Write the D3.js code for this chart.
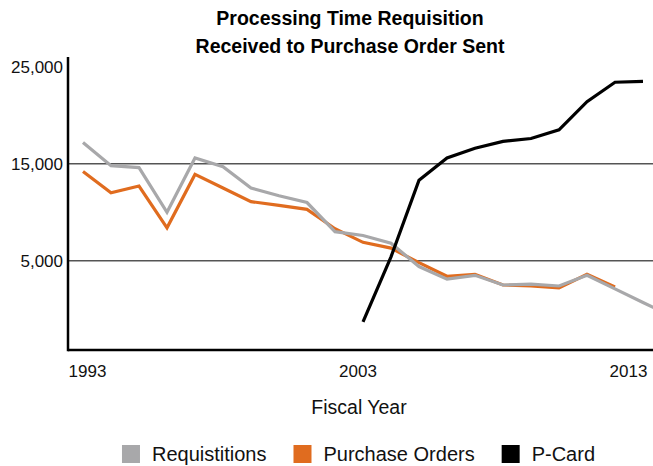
<!DOCTYPE html>
<html>
<head>
<meta charset="utf-8">
<script src="https://cdn.jsdelivr.net/npm/d3@7"></script>
<style>
  html, body { margin: 0; padding: 0; background: #fff; }
  svg { display: block; font-family: "Liberation Sans", Arial, Helvetica, sans-serif; }
</style>
</head>
<body>
<div id="chart"></div>
<script>
// Processing time, requisition received to PO sent

const years = [1993, 1994, 1995, 1996, 1997, 1998, 1999, 2000, 2001, 2002, 2003,
               2004, 2005, 2006, 2007, 2008, 2009, 2010, 2011, 2012, 2013, 2014];
const requisitions = [17200, 14800, 14600, 10000, 15600, 14700, 12500, 11700, 11000, 8000, 7600,
                      6800, 4400, 3100, 3500, 2500, 2600, 2400, 3500, 2100, 700, -700];
const purchaseOrders = [14200, 12000, 12700, 8400, 13900, 12500, 11100, 10700, 10300, 8300, 6900,
                        6300, 4800, 3400, 3600, 2500, 2400, 2200, 3600, 2300];
const pCardYears = [2003, 2004, 2005, 2006, 2007, 2008, 2009, 2010, 2011, 2012, 2013];
const pCard = [-1300, 5400, 13300, 15600, 16600, 17300, 17600, 18500, 21400, 23400, 23500];

const yTicks = [5000, 15000, 25000];
const gridValues = [5000, 15000];
const xTicks = [1993, 2003, 2013];

const seriesNames = ['Requistitions', 'Purchase Orders', 'P-Card'];
const seriesColors = ['#a8a8aa', '#e06c1f', '#000000'];

function drawChart() {
    const width = 653;
    const height = 466;
    const left = 68, right = 653, top = 58, bottom = 350;

    const svg = d3.select('#chart').append('svg')
        .attr('width', width)
        .attr('height', height);

    const x = d3.scaleLinear().domain([1993, 2013]).range([83, 643]);
    const xLabel = d3.scaleLinear().domain([1993, 2013]).range([87.5, 628.5]);
    const y = d3.scaleLinear().domain([-4200, 25900]).range([bottom, top]);

    // Title
    const title = svg.append('text')
        .attr('text-anchor', 'middle')
        .attr('font-size', '19.5px')
        .attr('font-weight', '700')
        .attr('fill', '#000');
    title.append('tspan').attr('x', 350).attr('y', 25).text('Processing Time Requisition');
    title.append('tspan').attr('x', 350).attr('y', 53).text('Received to Purchase Order Sent');

    // Gridlines
    svg.selectAll('.grid')
        .data(gridValues)
        .enter()
        .append('line')
        .attr('class', 'grid')
        .attr('x1', left)
        .attr('x2', right)
        .attr('y1', d => y(d))
        .attr('y2', d => y(d))
        .attr('stroke', '#555')
        .attr('stroke-width', 1.4);

    // Lines, clipped to plot area
    svg.append('clipPath')
        .attr('id', 'plot-clip')
        .append('rect')
        .attr('x', left)
        .attr('y', 0)
        .attr('width', right - left)
        .attr('height', bottom);

    const plot = svg.append('g').attr('clip-path', 'url(#plot-clip)');

    const line = d3.line()
        .x(d => x(d[0]))
        .y(d => y(d[1]));

    const series = [
        { name: 'Purchase Orders', color: seriesColors[1], pts: purchaseOrders.map((v, i) => [years[i], v]) },
        { name: 'Requistitions', color: seriesColors[0], pts: requisitions.map((v, i) => [years[i], v]) },
        { name: 'P-Card', color: seriesColors[2], pts: pCard.map((v, i) => [pCardYears[i], v]) }
    ];

    plot.selectAll('.series')
        .data(series)
        .enter()
        .append('path')
        .attr('class', 'series')
        .attr('d', d => line(d.pts))
        .attr('fill', 'none')
        .attr('stroke', d => d.color)
        .attr('stroke-width', 3.2)
        .attr('stroke-linejoin', 'miter');

    // Axes
    svg.append('line')
        .attr('x1', left).attr('x2', left)
        .attr('y1', top - 1).attr('y2', bottom + 1.25)
        .attr('stroke', '#000').attr('stroke-width', 2.5);
    svg.append('line')
        .attr('x1', left).attr('x2', right)
        .attr('y1', bottom).attr('y2', bottom)
        .attr('stroke', '#000').attr('stroke-width', 2.5);

    // Tick labels
    svg.selectAll('.ylab')
        .data(yTicks)
        .enter()
        .append('text')
        .attr('class', 'ylab')
        .attr('x', 63)
        .attr('y', d => y(d))
        .attr('dy', '0.35em')
        .attr('text-anchor', 'end')
        .attr('font-size', '17px')
        .attr('fill', '#111')
        .text(d => d3.format(',')(d));

    svg.selectAll('.xlab')
        .data(xTicks)
        .enter()
        .append('text')
        .attr('class', 'xlab')
        .attr('x', d => xLabel(d))
        .attr('y', 377)
        .attr('text-anchor', 'middle')
        .attr('font-size', '17px')
        .attr('fill', '#111')
        .text(d => d);

    svg.append('text')
        .attr('x', 359)
        .attr('y', 414)
        .attr('text-anchor', 'middle')
        .attr('font-size', '19.5px')
        .attr('fill', '#111')
        .text('Fiscal Year');

    // Legend
    const legend = svg.append('g');
    let cursor = 0;
    seriesNames.forEach((name, i) => {
        const item = legend.append('g').attr('transform', `translate(${cursor},0)`);
        item.append('rect')
            .attr('x', 0)
            .attr('y', 445)
            .attr('width', 18)
            .attr('height', 18)
            .attr('fill', seriesColors[i]);
        const t = item.append('text')
            .attr('x', 30)
            .attr('y', 461)
            .attr('font-size', '20px')
            .attr('fill', '#111')
            .text(name);
        cursor += 30 + t.node().getComputedTextLength() + 27;
    });
    const total = cursor - 27;
    legend.attr('transform', `translate(${358.5 - total / 2},0)`);
}

drawChart();
</script>
</body>
</html>
